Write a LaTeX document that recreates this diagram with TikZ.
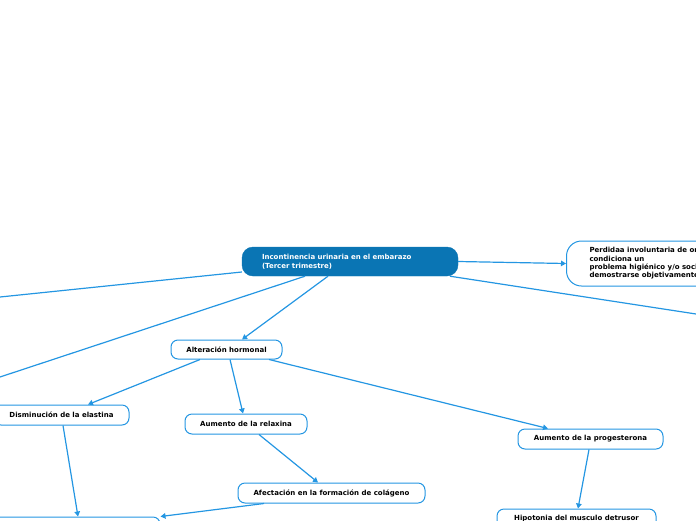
\documentclass[tikz,border=0pt]{standalone}
\usepackage{fontspec}
\setmainfont{DejaVu Sans}
\usetikzlibrary{arrows.meta}
\definecolor{lineblue}{RGB}{36,150,226}
\definecolor{mainblue}{RGB}{10,117,180}
\tikzset{
  conn/.style={draw=lineblue, line width=1.2pt},
  arr/.style={conn, -{Triangle[width=5.5pt,length=5pt]}},
  box/.style={draw=lineblue, line width=1pt, fill=white, rounded corners=7pt,
    minimum height=20pt, inner sep=0pt, font=\fontsize{7}{8.3}\selectfont\bfseries, text=black},
  mainbox/.style={draw=mainblue, fill=mainblue, rounded corners=11pt, inner ysep=0pt,
    inner xsep=20pt, minimum height=29pt, align=left, text width=176pt,
    font=\fontsize{7}{9}\selectfont\bfseries, text=white},
}
\begin{document}
\begin{tikzpicture}[x=1pt,y=-1pt]
\useasboundingbox (0,0) rectangle (696,520);
\node[mainbox] (main) at (350,261.5) {Incontinencia urinaria en el embarazo\\(Tercer trimestre)};
\node[box, anchor=west, minimum height=45pt, rounded corners=15pt, align=left, inner xsep=23pt] (def) at (566,263.5)
  {Perdidaa involuntaria de orina que\\condiciona un\\problema higiénico y/o social y que puede\\demostrarse objetivamente};
\node[box, minimum width=111pt, minimum height=19pt] (alt) at (226.5,349.5) {Alteración hormonal};
\node[box, minimum width=135pt] (elas) at (61.5,415) {Disminución de la elastina};
\node[box, minimum width=122pt] (relax) at (246,424) {Aumento de la relaxina};
\node[box, minimum width=187pt] (afect) at (331.5,493) {Afectación en la formación de colágeno};
\node[box, minimum width=145pt] (prog) at (590.5,439) {Aumento de la progesterona};
\node[box, minimum width=159pt] (hipo) at (576.5,519) {Hipotonia del musculo detrusor};
\node[box, minimum width=200pt] (low) at (60,527) {};
\coordinate (offA) at (0,297);
\coordinate (offB) at (0,377);
\coordinate (offC) at (696,314);
% connectors
\draw[conn] ([yshift=-10.5pt]main.west) -- (offA);
\draw[conn] ([xshift=-45pt]main.south) -- (offB);
\draw[conn] ([xshift=100pt]main.south) -- (offC);
\draw[arr] ([xshift=-22pt]main.south) -- ([xshift=15.5pt]alt.north);
\draw[arr] (main.east) -- (def.west);
\draw[arr] ([xshift=-26.5pt]alt.south) -- ([xshift=26.5pt]elas.north);
\draw[arr] ([xshift=3.5pt]alt.south) -- ([xshift=-3pt]relax.north);
\draw[arr] ([xshift=42.5pt]alt.south) -- ([xshift=-42.5pt]prog.north);
\draw[arr] ([xshift=13pt]relax.south) -- ([xshift=-13.5pt]afect.north);
\draw[arr] ([xshift=-1.5pt]prog.south) -- ([xshift=1.5pt]hipo.north);
\draw[arr] ([xshift=1.5pt]elas.south) -- ([xshift=18pt]low.north);
\draw[arr] ([xshift=-67.5pt]afect.south) -- (low.north east);
\end{tikzpicture}
\end{document}
